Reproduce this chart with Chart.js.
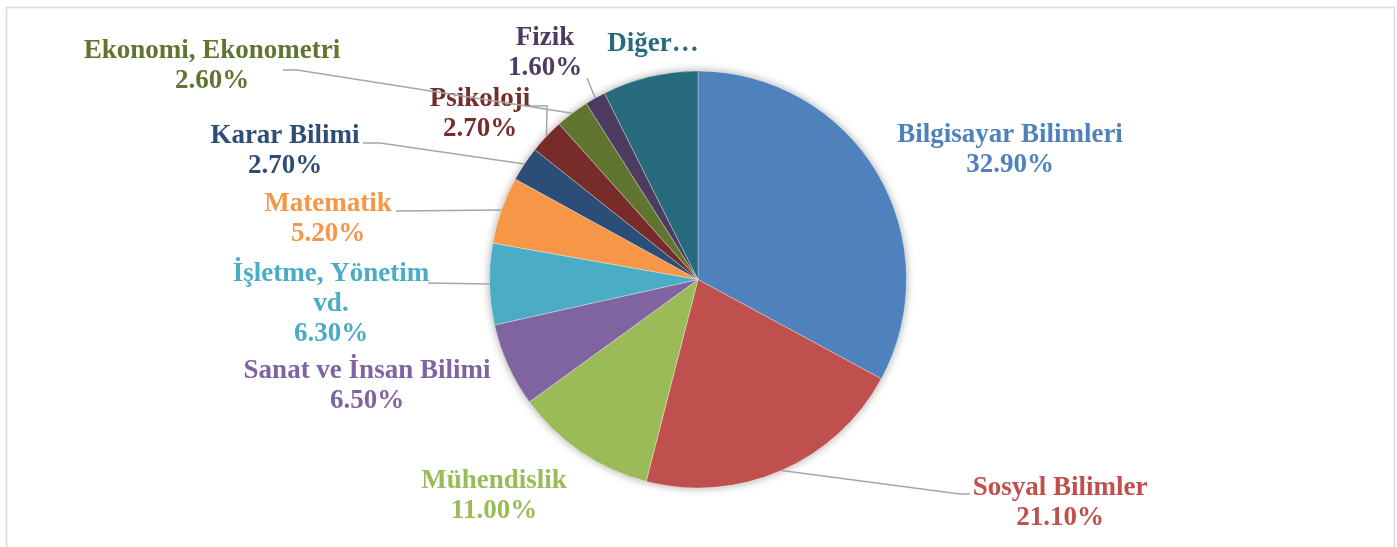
<!DOCTYPE html>
<html>
<head>
<meta charset="utf-8">
<script src="https://cdn.jsdelivr.net/npm/chart.js@4/dist/chart.umd.min.js"></script>
<style>
  html, body { margin: 0; padding: 0; background: #fff; }
  canvas { display: block; }
</style>
</head>
<body>
<canvas id="graficoAlan" width="1397" height="547"></canvas>
<script>
// alanlar ve oranlari (%)
const alanlar = [
    'Bilgisayar Bilimleri',
    'Sosyal Bilimler',
    'Mühendislik',
    'Sanat ve İnsan Bilimi',
    ['İşletme, Yönetim', 'vd.'],
    'Matematik',
    'Karar Bilimi',
    'Psikoloji',
    'Ekonomi, Ekonometri',
    'Fizik',
    'Diğer…'
];
const oranlar = [32.9, 21.1, 11.0, 6.5, 6.3, 5.2, 2.7, 2.7, 2.6, 1.6, 7.4];
const oranGoster = [true, true, true, true, true, true, true, true, true, true, false];

const renkler = [
    '#4F81BD', '#C0504D', '#9BBB59', '#8064A2', '#4BACC6', '#F79646',
    '#2C4D75', '#772C2A', '#5F7530', '#4D3B62', '#276A7C'
];

// etiket yerlesimi: merkez x, ilk satir taban cizgisi, etiket tarafindaki bag cizgisi noktalari
const etiketYeri = [
    { x: 1010, y: 142, bag: null },
    { x: 1060, y: 495, bag: [[970, 494], [960, 494]] },
    { x: 494, y: 488, bag: null },
    { x: 367, y: 378, bag: null },
    { x: 331, y: 281, bag: [[428, 283]] },
    { x: 328, y: 211, bag: [[396, 211]] },
    { x: 285, y: 143, bag: [[363, 143], [380, 143]] },
    { x: 480, y: 106, bag: [[530, 106], [547, 106]] },
    { x: 212, y: 58, bag: [[283, 70], [297, 70]] },
    { x: 545, y: 45, bag: [[587, 78]] },
    { x: 653, y: 51, bag: null }
];

const cerceve = {
    id: 'cerceve',
    beforeDraw(chart) {
        const c = chart.ctx;
        c.save();
        c.fillStyle = '#fff';
        c.fillRect(0, 0, chart.width, chart.height);
        c.strokeStyle = '#d9d9d9';
        c.lineWidth = 1.5;
        c.strokeRect(6.5, 7.5, 1388, 600);
        c.restore();
    },
    beforeDatasetsDraw(chart) {
        const arc = chart.getDatasetMeta(0).data[0];
        if (!arc) return;
        const c = chart.ctx;
        c.save();
        c.shadowColor = 'rgba(0,0,0,0.35)';
        c.shadowBlur = 9;
        c.fillStyle = '#fff';
        c.beginPath();
        c.arc(arc.x, arc.y, arc.outerRadius, 0, Math.PI * 2);
        c.fill();
        c.restore();
    }
};

const etiketler = {
    id: 'etiketler',
    afterDatasetsDraw(chart) {
        const c = chart.ctx;
        const meta = chart.getDatasetMeta(0);
        c.save();
        meta.data.forEach((arc, i) => {
            const yer = etiketYeri[i];
            // bag cizgisi
            if (yer.bag) {
                const orta = (arc.startAngle + arc.endAngle) / 2;
                const px = arc.x + Math.cos(orta) * arc.outerRadius;
                const py = arc.y + Math.sin(orta) * arc.outerRadius;
                c.strokeStyle = '#a6a6a6';
                c.lineWidth = 1.5;
                c.beginPath();
                c.moveTo(yer.bag[0][0], yer.bag[0][1]);
                yer.bag.slice(1).forEach(p => c.lineTo(p[0], p[1]));
                c.lineTo(px, py);
                c.stroke();
            }
            // metin
            const ad = alanlar[i];
            const satirlar = Array.isArray(ad) ? ad.slice() : [ad];
            if (oranGoster[i]) satirlar.push(oranlar[i].toFixed(2) + '%');
            c.fillStyle = renkler[i];
            c.font = 'bold 27px "Liberation Serif", "Times New Roman", serif';
            c.textAlign = 'center';
            c.textBaseline = 'alphabetic';
            satirlar.forEach((s, k) => c.fillText(s, yer.x, yer.y + k * 30));
        });
        c.restore();
    }
};

const ctx = document.getElementById('graficoAlan').getContext('2d');

new Chart(ctx, {
    type: 'pie',
    data: {
        labels: alanlar,
        datasets: [{
            data: oranlar,
            backgroundColor: renkler,
            borderColor: 'rgba(255,255,255,0.3)',
            borderWidth: 1
        }]
    },
    options: {
        responsive: false,
        animation: false,
        layout: { padding: { top: 70, bottom: 58, left: 489, right: 490 } },
        plugins: {
            legend: { display: false },
            tooltip: { enabled: false }
        }
    },
    plugins: [cerceve, etiketler]
});
</script>
</body>
</html>
